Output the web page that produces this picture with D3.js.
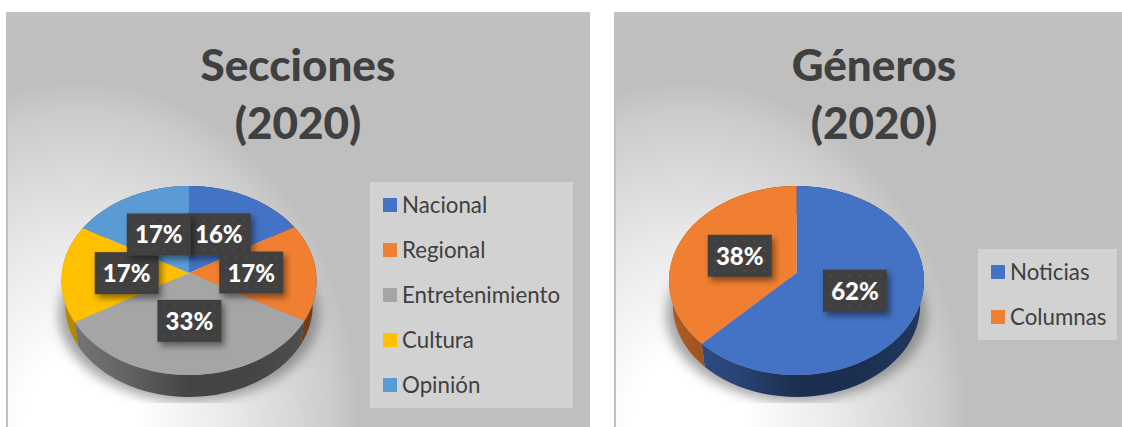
<!DOCTYPE html>
<html>
<head>
<meta charset="utf-8">
<script src="https://cdn.jsdelivr.net/npm/d3@7"></script>
<style>
  html, body { margin: 0; padding: 0; background: #fff; }
  svg { display: block; }
  text { font-family: Lato, "Open Sans", sans-serif; }
</style>
</head>
<body>
<svg id="canvas" width="1122" height="427"></svg>
<script>
// data
var seccionesNames = ["Nacional", "Regional", "Entretenimiento", "Cultura", "Opinión"];
var seccionesValues = [16.49, 16.7, 33.4, 16.7, 16.71];
var seccionesColors = ["#4472c4", "#f07f31", "#a5a5a5", "#ffc000", "#5b9bd5"];

var generosNames = ["Noticias", "Columnas"];
var generosValues = [62.4, 37.6];
var generosColors = ["#4472c4", "#f07f31"];

var svg = d3.select("#canvas");
var defs = svg.append("defs");

// panel background, light corner bottom left
function addPanelGradient(id, cx) {
  var g = defs.append("radialGradient")
    .attr("id", id)
    .attr("gradientUnits", "userSpaceOnUse")
    .attr("cx", 0).attr("cy", 0).attr("r", 1)
    .attr("gradientTransform", "translate(" + cx + ",425) scale(280,345)");
  g.append("stop").attr("offset", "0.2").attr("stop-color", "#ffffff");
  g.append("stop").attr("offset", "0.55").attr("stop-color", "#e8e8e8");
  g.append("stop").attr("offset", "0.9").attr("stop-color", "#cccccc");
  g.append("stop").attr("offset", "1").attr("stop-color", "#bfbfbf");
}
addPanelGradient("panelLeft", 80);
addPanelGradient("panelRight", 688);

defs.append("filter").attr("id", "blurShadow")
  .attr("x", "-20%").attr("y", "-20%").attr("width", "140%").attr("height", "140%")
  .append("feGaussianBlur").attr("stdDeviation", 6);

var labelShadow = defs.append("filter").attr("id", "labelShadow")
  .attr("x", "-30%").attr("y", "-30%").attr("width", "170%").attr("height", "170%");
labelShadow.append("feDropShadow")
  .attr("dx", 3).attr("dy", 4).attr("stdDeviation", 3)
  .attr("flood-color", "#000").attr("flood-opacity", 0.45);

var dots = defs.append("pattern").attr("id", "labelDots")
  .attr("patternUnits", "userSpaceOnUse").attr("width", 10).attr("height", 10);
dots.append("rect").attr("width", 10).attr("height", 10).attr("fill", "#3f3f3f");
dots.append("circle").attr("cx", 5).attr("cy", 5).attr("r", 1.3).attr("fill", "#4b4b4b");

function drawPie(opt) {
  var cx = opt.cx, cy = opt.cy;
  var rx = 127.1, ry = 93.9, k = 0.0794;
  var depthScale = 0.97, depth = 25;

  // tilted disc: circle seen in perspective
  function project(theta, r) {
    var w = 1 + k * Math.cos(theta) * r;
    return [rx * r * Math.sin(theta) / w, -ry * r * Math.cos(theta) / w];
  }
  function sample(d) {
    var n = 60;
    return d3.range(n + 1).map(function(i) {
      return d.startAngle + (d.endAngle - d.startAngle) * i / n;
    });
  }
  var line = d3.line();
  var arcs = d3.pie().sort(null)(opt.values);
  var g = svg.append("g").attr("transform", "translate(" + cx + "," + cy + ")");

  // soft shadow on the floor
  var clipId = "clip" + opt.id;
  defs.append("clipPath").attr("id", clipId).append("rect")
    .attr("x", -140).attr("y", 5).attr("width", 280).attr("height", 125);
  g.append("g").attr("clip-path", "url(#" + clipId + ")")
    .append("ellipse")
    .attr("cx", 0).attr("cy", 42)
    .attr("rx", 130).attr("ry", 86)
    .attr("fill", "#4d4d4d").attr("opacity", 0.5)
    .attr("filter", "url(#blurShadow)");

  // rim
  g.selectAll(".side")
    .data(arcs)
    .enter().append("path")
    .attr("class", "side")
    .attr("d", function(d) {
      var angles = sample(d);
      var topEdge = angles.map(function(t) { return project(t, 1); });
      var bottomEdge = angles.slice().reverse().map(function(t) {
        var p = project(t, 1);
        return [p[0] * depthScale, p[1] * depthScale + depth];
      });
      return line(topEdge.concat(bottomEdge)) + "Z";
    })
    .attr("fill", function(d, i) {
      var id = "side" + opt.id + i;
      var grad = defs.append("linearGradient").attr("id", id)
        .attr("gradientUnits", "userSpaceOnUse")
        .attr("x1", -rx).attr("x2", rx).attr("y1", 0).attr("y2", 0);
      [[0, 0.9], [0.25, 1.4], [0.5, 2.5], [0.75, 2.5], [1, 2]].forEach(function(s) {
        grad.append("stop").attr("offset", s[0])
          .attr("stop-color", d3.color(opt.colors[i]).darker(s[1]).formatHex());
      });
      return "url(#" + id + ")";
    });

  // top face
  g.selectAll(".slice")
    .data(arcs)
    .enter().append("path")
    .attr("class", "slice")
    .attr("d", function(d) {
      var pts = sample(d).map(function(t) { return project(t, 1); });
      return line([[0, 0]].concat(pts)) + "Z";
    })
    .attr("fill", function(d, i) { return opt.colors[i]; });

  // percent labels
  var labels = g.selectAll(".pct")
    .data(arcs)
    .enter().append("g")
    .attr("class", "pct")
    .attr("transform", function(d) {
      var p = project((d.startAngle + d.endAngle) / 2, 0.49);
      return "translate(" + p[0] + "," + p[1] + ")";
    });
  labels.append("rect")
    .attr("x", -32).attr("y", -21)
    .attr("width", 64).attr("height", 42)
    .attr("fill", "url(#labelDots)")
    .attr("filter", "url(#labelShadow)");
  labels.append("text")
    .attr("y", 9)
    .attr("text-anchor", "middle")
    .attr("font-size", 24)
    .attr("font-weight", 900)
    .attr("fill", "#fff")
    .text(function(d) { return Math.round(d.value) + "%"; });

  // title
  opt.title.forEach(function(t, i) {
    svg.append("text")
      .attr("x", opt.titleX).attr("y", 81 + i * 58)
      .attr("text-anchor", "middle")
      .attr("font-size", 44)
      .attr("font-weight", 900)
      .attr("fill", "#404040")
      .text(t);
  });

  // legend
  var lg = opt.legend;
  svg.append("rect")
    .attr("x", lg.x).attr("y", lg.y)
    .attr("width", lg.w).attr("height", lg.h)
    .attr("fill", "#d2d2d2");
  var ly = d3.scalePoint().domain(opt.names).range(lg.range);
  svg.selectAll(".key" + opt.id)
    .data(opt.names)
    .enter().append("rect")
    .attr("class", "key" + opt.id)
    .attr("x", lg.x + 13)
    .attr("y", function(d) { return ly(d) - 7; })
    .attr("width", 14).attr("height", 14)
    .attr("fill", function(d, i) { return opt.colors[i]; });
  svg.selectAll(".name" + opt.id)
    .data(opt.names)
    .enter().append("text")
    .attr("class", "name" + opt.id)
    .attr("x", lg.x + 32)
    .attr("y", function(d) { return ly(d) + 8; })
    .attr("font-size", 22.3)
    .attr("fill", "#404040")
    .text(function(d) { return d; });
}

// panels
svg.append("rect").attr("x", 6).attr("y", 12).attr("width", 584).attr("height", 415)
  .attr("fill", "url(#panelLeft)");
svg.append("rect").attr("x", 6).attr("y", 12).attr("width", 2).attr("height", 415)
  .attr("fill", "#bfbfbf");
svg.append("rect").attr("x", 614).attr("y", 12).attr("width", 508).attr("height", 415)
  .attr("fill", "url(#panelRight)");
svg.append("rect").attr("x", 614).attr("y", 12).attr("width", 2).attr("height", 415)
  .attr("fill", "#bfbfbf");

drawPie({
  id: "A", cx: 189, cy: 273,
  names: seccionesNames, values: seccionesValues, colors: seccionesColors,
  title: ["Secciones", "(2020)"], titleX: 298,
  legend: { x: 370, y: 182, w: 203, h: 226, range: [205, 385] }
});
drawPie({
  id: "B", cx: 796.5, cy: 273,
  names: generosNames, values: generosValues, colors: generosColors,
  title: ["Géneros", "(2020)"], titleX: 874,
  legend: { x: 978, y: 249, w: 139, h: 91, range: [272, 317] }
});
</script>
</body>
</html>
